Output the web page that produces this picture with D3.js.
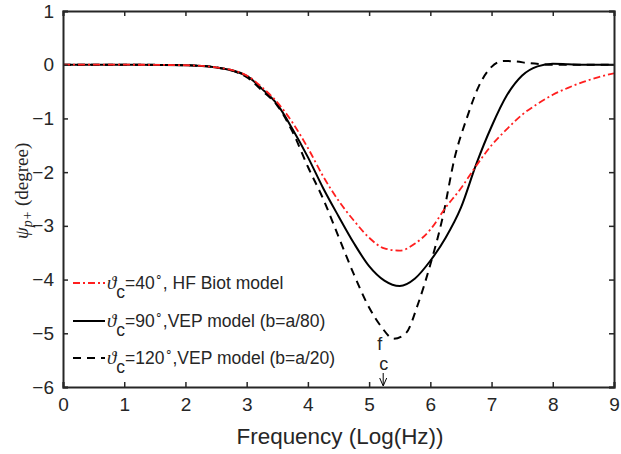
<!DOCTYPE html>
<html>
<head>
<meta charset="utf-8">
<script src="https://cdn.jsdelivr.net/npm/d3@7"></script>
<style>
  body { margin: 0; background: #fff; }
  svg text { font-family: "Liberation Sans", Arial, sans-serif; fill: #262626; }
</style>
</head>
<body>
<div id="chart"></div>
<script>
// values
const xTicks = [0, 1, 2, 3, 4, 5, 6, 7, 8, 9];
const yTicks = [1, 0, -1, -2, -3, -4, -5, -6];

const freqRed = [0, 1, 2, 2.5, 3, 3.25, 3.5, 3.75, 4, 4.25, 4.5, 4.75, 5, 5.25, 5.5, 5.75, 6, 6.25, 6.5, 6.75, 7, 7.25, 7.5, 7.75, 8, 8.25, 8.5, 8.75, 9];
const psiRed  = [0, 0, -0.01, -0.05, -0.2, -0.42, -0.7, -1.08, -1.55, -2.08, -2.53, -2.9, -3.22, -3.42, -3.46, -3.33, -3.07, -2.66, -2.3, -1.88, -1.5, -1.2, -0.93, -0.73, -0.56, -0.43, -0.32, -0.23, -0.16];

const freqSolid = [0, 1, 2, 2.5, 3, 3.25, 3.5, 3.75, 4, 4.25, 4.5, 4.75, 5, 5.25, 5.5, 5.75, 6, 6.25, 6.5, 6.75, 7, 7.25, 7.5, 7.75, 8, 8.25, 8.5, 9];
const psiSolid  = [0, 0, -0.01, -0.05, -0.21, -0.45, -0.74, -1.2, -1.72, -2.3, -2.82, -3.32, -3.75, -4.02, -4.12, -3.98, -3.65, -3.22, -2.66, -1.85, -1.15, -0.57, -0.2, -0.03, 0.02, 0.01, 0, 0];

const freqDash = [0, 1, 2, 2.5, 3, 3.25, 3.5, 3.75, 4, 4.25, 4.5, 4.75, 5, 5.2, 5.4, 5.6, 5.8, 6, 6.2, 6.4, 6.6, 6.8, 7, 7.2, 7.4, 7.6, 7.8, 8, 9];
const psiDash  = [0, 0, -0.01, -0.05, -0.23, -0.48, -0.76, -1.25, -1.9, -2.5, -3.2, -3.9, -4.52, -4.88, -5.1, -5.0, -4.45, -3.72, -2.85, -1.72, -0.98, -0.38, -0.04, 0.07, 0.06, 0.03, 0.01, 0, 0];

const legendLabels = ["=40", "=90", "=120"];
const legendTails = [", HF Biot model", ",VEP model (b=a/80)", ",VEP model (b=a/20)"];
const fc = 5.23;

const width = 621, height = 454;
const margin = {left: 63, right: 7, top: 11, bottom: 67};

const svg = d3.select("#chart").append("svg")
    .attr("width", width)
    .attr("height", height);

const x = d3.scaleLinear().domain([0, 9]).range([margin.left, width - margin.right]);
const y = d3.scaleLinear().domain([-6, 1]).range([height - margin.bottom, margin.top]);

const axisColor = "#262626";
const serif = "'Liberation Serif', 'DejaVu Serif', serif";

// curves
const lineGen = d3.line().x(d => x(d[0])).y(d => y(d[1])).curve(d3.curveMonotoneX);

const series = [
  {xs: freqRed, ys: psiRed, color: "#ff1f1f", dash: "7,3,2,3", w: 1.8},
  {xs: freqSolid, ys: psiSolid, color: "#000", dash: null, w: 2},
  {xs: freqDash, ys: psiDash, color: "#000", dash: "8,6", w: 2}
];

svg.append("defs").append("clipPath").attr("id", "clip")
  .append("rect")
  .attr("x", x(0)).attr("y", y(1))
  .attr("width", x(9) - x(0)).attr("height", y(-6) - y(1));

const plot = svg.append("g").attr("clip-path", "url(#clip)");
// dashed first, red on top like the reference
[series[2], series[1], series[0]].forEach(s => {
  plot.append("path")
    .datum(s.xs.map((v, i) => [v, s.ys[i]]))
    .attr("d", lineGen)
    .attr("fill", "none")
    .attr("stroke", s.color)
    .attr("stroke-width", s.w)
    .attr("stroke-dasharray", s.dash);
});

// axes (MATLAB box with inward ticks)
const tickLen = 5;
const xAxisB = d3.axisBottom(x).tickValues(xTicks).tickSize(-tickLen).tickPadding(11).tickFormat(d3.format("d"));
const xAxisT = d3.axisTop(x).tickValues(xTicks).tickSize(-tickLen).tickFormat("");
const yAxisL = d3.axisLeft(y).tickValues(yTicks).tickSize(-tickLen).tickPadding(9).tickFormat(d3.format("d"));
const yAxisR = d3.axisRight(y).tickValues(yTicks).tickSize(-tickLen).tickFormat("");

function styleAxis(g) {
  g.attr("font-size", 19).attr("font-family", "'Liberation Sans', Arial, sans-serif");
  g.select(".domain").attr("stroke", axisColor).attr("stroke-width", 2);
  g.selectAll(".tick line").attr("stroke", axisColor).attr("stroke-width", 1.5);
  g.selectAll(".tick text").attr("fill", axisColor).style("font-size", "19px");
}

svg.append("g").attr("transform", `translate(0,${y(-6)})`).call(xAxisB).call(styleAxis);
svg.append("g").attr("transform", `translate(0,${y(1)})`).call(xAxisT).call(styleAxis);
svg.append("g").attr("transform", `translate(${x(0)},0)`).call(yAxisL).call(styleAxis);
svg.append("g").attr("transform", `translate(${x(9)},0)`).call(yAxisR).call(styleAxis);

// axis titles
svg.append("text")
  .attr("x", 340)
  .attr("y", 444)
  .attr("text-anchor", "middle")
  .style("font-size", "22px")
  .attr("textLength", 207)
  .attr("lengthAdjust", "spacingAndGlyphs")
  .text("Frequency (Log(Hz))");

const yTitle = svg.append("text")
  .attr("transform", `translate(28,${y(-2.35)}) rotate(-90)`)
  .attr("text-anchor", "middle")
  .style("font-family", serif)
  .style("font-size", "19px");
yTitle.append("tspan").style("font-family", serif).style("font-style", "italic").text("ψ");
yTitle.append("tspan").style("font-family", serif).style("font-style", "italic")
  .style("font-size", "14px").attr("dy", 4).text("p+");
yTitle.append("tspan").style("font-family", serif).attr("dy", -4).text(" (degree)");

// legend
const legendY = [283, 321, 358];
series.forEach((s, i) => {
  const gy = legendY[i];
  svg.append("line")
    .attr("x1", 73).attr("x2", 105)
    .attr("y1", gy).attr("y2", gy)
    .attr("stroke", s.color)
    .attr("stroke-width", s.w)
    .attr("stroke-dasharray", s.dash);
  const t = svg.append("text").attr("x", 107).attr("y", gy + 6).style("font-size", "17.5px");
  t.append("tspan").style("font-family", serif)
    .style("font-style", "italic").style("font-size", "19px").text("ϑ");
  t.append("tspan").attr("dy", 9).text("c");
  t.append("tspan").attr("dy", -9).text(legendLabels[i]);
  t.append("tspan").attr("dy", -8).style("font-size", "12px").text("∘");
  t.append("tspan").attr("dy", 8).text(legendTails[i]);
});

// f_c marker
svg.append("text").attr("x", x(fc) - 6).attr("y", 350).style("font-size", "18px").text("f");
svg.append("text").attr("x", x(fc) - 4).attr("y", 370).style("font-size", "18px").text("c");
svg.append("line")
  .attr("x1", x(fc)).attr("x2", x(fc))
  .attr("y1", 373).attr("y2", y(-6) - 2)
  .attr("stroke", "#000").attr("stroke-width", 1);
svg.append("path")
  .attr("d", `M${x(fc) - 3.5},${y(-6) - 9} L${x(fc)},${y(-6) - 1} L${x(fc) + 3.5},${y(-6) - 9}`)
  .attr("fill", "none").attr("stroke", "#000").attr("stroke-width", 1);
</script>
</body>
</html>
